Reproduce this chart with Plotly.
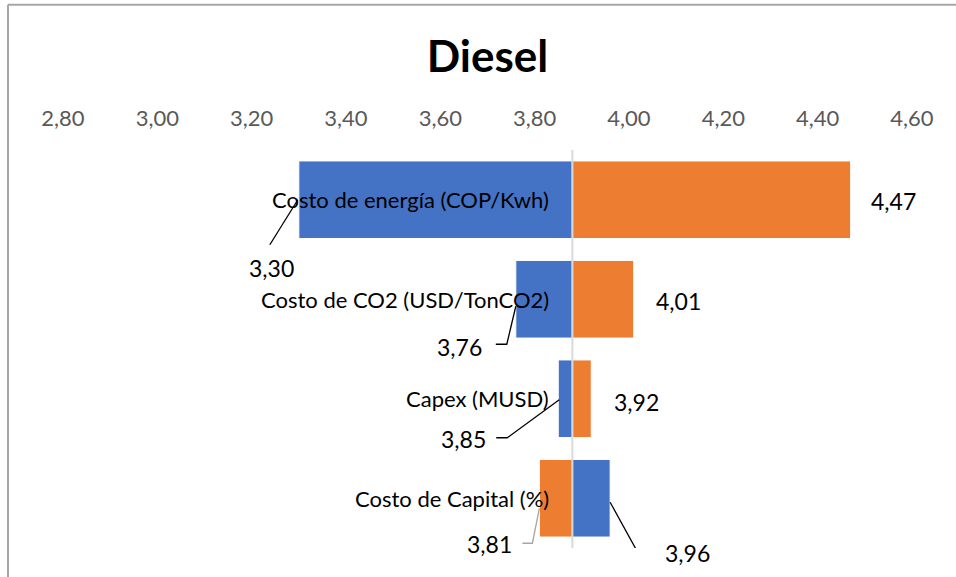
import plotly.graph_objects as go

# Sensitivity of the diesel cost around the base case
categories = ["Costo de energía (COP/Kwh)", "Costo de CO2 (USD/TonCO2)",
              "Capex (MUSD)", "Costo de Capital (%)"]
base_value = 3.88
low_case = [3.30, 3.76, 3.85, 3.96]    # blue series
high_case = [4.47, 4.01, 3.92, 3.81]   # orange series
tick_values = [2.80, 3.00, 3.20, 3.40, 3.60, 3.80, 4.00, 4.20, 4.40, 4.60]

BLUE = "#4472C4"
ORANGE = "#ED7D31"
FONT = "Lato"


def fmt(v):
    return f"{v:.2f}".replace(".", ",")


fig = go.Figure()
for vals, color in ((low_case, BLUE), (high_case, ORANGE)):
    fig.add_trace(go.Bar(
        y=categories,
        x=[v - base_value for v in vals],
        base=base_value,
        orientation="h",
        width=0.78,
        marker=dict(color=color, line=dict(color="white", width=1)),
        hoverinfo="skip",
        showlegend=False,
    ))

# Vertical reference line at the base case
fig.add_shape(type="line", xref="x", yref="paper", x0=base_value, x1=base_value,
              y0=0, y1=1, line=dict(color="#D9D9D9", width=2), layer="above")

# Category names, right-aligned against the base line
for cat in categories:
    fig.add_annotation(x=base_value, y=cat, text=cat, showarrow=False,
                       xanchor="right", yanchor="middle", xshift=-21,
                       font=dict(family=FONT, size=22, color="black"))

# Value labels: (label dx, label dy) in pixels, plus leader path (pixel points, y down)
low_layout = [
    ((-27, 68), [(-1, 0), (-29, 45)], "black"),
    ((-56, 48), [(0, 7), (-9, 45), (-20, 45)], "black"),
    ((-95, 40), [(1, 1), (-51, 39), (-62, 39)], "black"),
    ((77, 55), [(0, 4), (27, 53), (39, 53)], "black"),
]
high_layout = [
    ((43, 1), None, "black"),
    ((45, 2), None, "black"),
    ((45, 3), None, "black"),
    ((-50, 46), [(0, 10), (-7, 45), (-17, 45)], "#A6A6A6"),
]

for vals, layout in ((low_case, low_layout), (high_case, high_layout)):
    for cat, v, ((dx, dy), path, lc) in zip(categories, vals, layout):
        fig.add_annotation(x=v, y=cat, text=fmt(v), showarrow=False,
                           xanchor="center", yanchor="middle",
                           xshift=dx, yshift=-dy,
                           font=dict(family=FONT, size=23, color="black"))
        if path:
            d = "M" + " L".join(f"{px},{-py}" for px, py in path)
            fig.add_shape(type="path", xref="x", yref="y",
                          xsizemode="pixel", ysizemode="pixel",
                          xanchor=v, yanchor=cat, path=d,
                          line=dict(color=lc, width=1.3), layer="above")

# Outer chart frame (left and top edges)
fig.add_shape(type="line", xref="paper", yref="paper",
              x0=-0.0648, x1=-0.0648, y0=-0.1, y1=1.365,
              line=dict(color="#A6A6A6", width=2))
fig.add_shape(type="line", xref="paper", yref="paper",
              x0=-0.0648, x1=1.2, y0=1.365, y1=1.365,
              line=dict(color="#A6A6A6", width=2))

fig.update_layout(
    width=956, height=577,
    margin=dict(l=63, r=44, t=150, b=29),
    paper_bgcolor="white", plot_bgcolor="white",
    barmode="overlay",
    separators=",.",
    title=dict(text="<b>Diesel</b>", x=0.5, xref="paper", y=1 - 57 / 577,
               yref="container", xanchor="center", yanchor="middle",
               font=dict(family=FONT, size=44, color="black")),
    xaxis=dict(range=[2.80, 4.60], side="top", tickvals=tick_values,
               tickformat=".2f", showgrid=False, zeroline=False,
               showline=False, ticks="", ticklabelstandoff=19,
               tickfont=dict(family=FONT, size=22, color="#595959")),
    yaxis=dict(range=[3.5, -0.5], showticklabels=False, showgrid=False,
               zeroline=False, showline=False, ticks=""),
)

fig.write_html("out.html")
